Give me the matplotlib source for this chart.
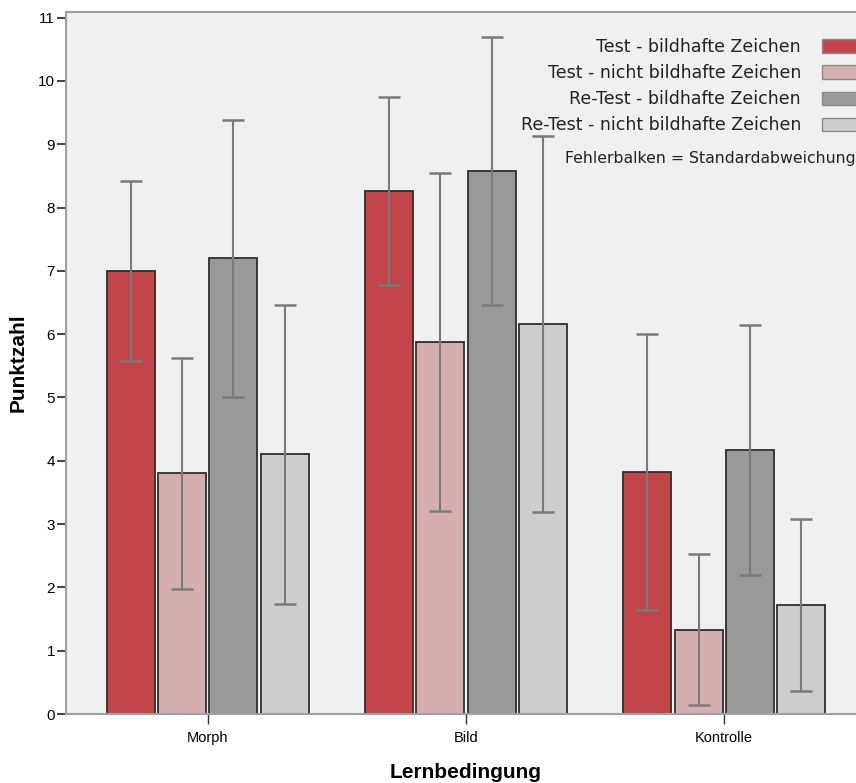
import numpy as np
import matplotlib.pyplot as plt
from matplotlib.patches import Patch

# values (mean and standard deviation)
groups = ['Morph', 'Bild', 'Kontrolle']
series = ['Test - bildhafte Zeichen', 'Test - nicht bildhafte Zeichen',
          'Re-Test - bildhafte Zeichen', 'Re-Test - nicht bildhafte Zeichen']
test_bild = [7.00, 8.26, 3.83]
test_nicht = [3.80, 5.88, 1.33]
retest_bild = [7.20, 8.58, 4.17]
retest_nicht = [4.10, 6.16, 1.72]
sd_test_bild = [1.42, 1.49, 2.18]
sd_test_nicht = [1.82, 2.67, 1.19]
sd_retest_bild = [2.19, 2.12, 1.98]
sd_retest_nicht = [2.36, 2.97, 1.36]
yticks = list(range(0, 12))

means = [test_bild, test_nicht, retest_bild, retest_nicht]
sds = [sd_test_bild, sd_test_nicht, sd_retest_bild, sd_retest_nicht]
colors = ['#c2454a', '#d5afb0', '#999999', '#cdcdcd']

fig = plt.figure(figsize=(8.56, 7.83), dpi=100)
W, H = 856, 783
ax = fig.add_axes([66 / W, 1 - 714 / H, 800 / W, (714 - 12) / H])
ax.set_facecolor('#f0f0f0')

x = np.arange(len(groups))
width = 0.186
step = 0.198
for i in range(4):
    pos = x + (i - 1.5) * step
    ax.bar(pos, means[i], width=width, color=colors[i], edgecolor='#2e2e2e',
           linewidth=1.3, zorder=2)
    ax.errorbar(pos, means[i], yerr=sds[i], fmt='none', ecolor='#7a7a7a',
                elinewidth=1.5, capsize=8, capthick=1.8, zorder=3)

ax.set_xlim(-0.55, 2.55)
ax.set_ylim(0, 11.09)
ax.set_yticks(yticks)
ax.set_xticks(x)
ax.set_xticklabels(groups, family='Liberation Sans', fontsize=10.5)
for lab in ax.get_yticklabels():
    lab.set_family('Liberation Sans')
    lab.set_fontsize(11)
ax.tick_params(axis='y', length=6.5, width=1.3, color='#333333', pad=1.5)
ax.tick_params(axis='x', length=7, width=1, color='#333333', pad=5)

for s in ['left', 'bottom', 'top']:
    ax.spines[s].set_color('#a0a0a0')
    ax.spines[s].set_linewidth(1.5)
ax.spines['right'].set_visible(False)

ax.set_ylabel('Punktzahl', family='Liberation Sans', fontweight='bold',
              fontsize=15, va='center')
ax.yaxis.set_label_coords((18 - 66) / 800, 0.5)
ax.set_xlabel('Lernbedingung', family='Liberation Sans', fontweight='bold',
              fontsize=15, va='center')
ax.xaxis.set_label_coords(0.5, (714 - 772) / 702)

handles = [Patch(facecolor=c, edgecolor='#8a8a8a', linewidth=1) for c in colors]
leg = ax.legend(handles, series, markerfirst=False, frameon=False,
                loc='upper right', bbox_to_anchor=(867 / W, 1 - 38 / H),
                bbox_transform=fig.transFigure, fontsize=12.5,
                handlelength=2.6, handleheight=0.8, handletextpad=1.2,
                labelspacing=0.47, borderpad=0, borderaxespad=0)
for t in leg.get_texts():
    t.set_color('#222222')

fig.text(565 / W, 1 - 159 / H, 'Fehlerbalken = Standardabweichung',
         fontsize=11.3, color='#222222', va='center', ha='left')

fig.savefig('out.png', dpi=100)
